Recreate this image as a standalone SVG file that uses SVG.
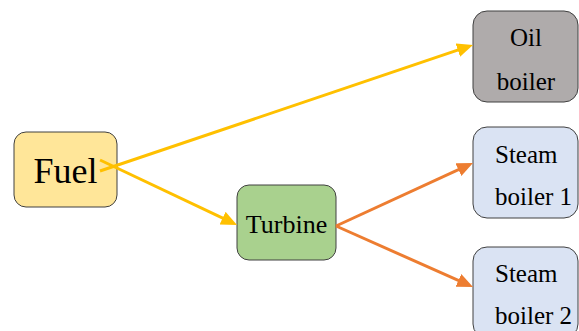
<svg xmlns="http://www.w3.org/2000/svg" width="579" height="331" viewBox="0 0 579 331">
  <style>
    .box { stroke: #404040; stroke-width: 1; }
    .lbl { font-family: "Liberation Serif", "Times New Roman", serif; fill: #000; }
    .yel { stroke: #FFC000; stroke-width: 3; fill: none; }
    .org { stroke: #ED7D31; stroke-width: 3; fill: none; }
  </style>
  <defs>
    <marker id="ahY" markerUnits="userSpaceOnUse" markerWidth="17" markerHeight="15" refX="6" refY="7" orient="auto">
      <path d="M0,0 L16,7 L0,14 z" fill="#FFC000"/>
    </marker>
    <marker id="ahO" markerUnits="userSpaceOnUse" markerWidth="17" markerHeight="15" refX="6" refY="7" orient="auto">
      <path d="M0,0 L16,7 L0,14 z" fill="#ED7D31"/>
    </marker>
  </defs>
  <rect width="579" height="331" fill="#fff"/>

  <g id="fuel">
    <rect class="box" x="14" y="132" width="103" height="75" rx="12" fill="#FFE699"/>
    <text class="lbl" x="65.5" y="183" font-size="36" text-anchor="middle">Fuel</text>
  </g>

  <g id="turbine">
    <rect class="box" x="237" y="185" width="99" height="75" rx="12" fill="#A9D18E"/>
    <text class="lbl" x="286.5" y="233" font-size="26" text-anchor="middle">Turbine</text>
  </g>

  <g id="oil-boiler">
    <rect class="box" x="473" y="11" width="105" height="91" rx="14" fill="#AFABAB"/>
    <text class="lbl" x="526" y="46" font-size="25" text-anchor="middle">Oil</text>
    <text class="lbl" x="526" y="90" font-size="25" text-anchor="middle">boiler</text>
  </g>

  <g id="steam-boiler-1">
    <rect class="box" x="473" y="127" width="105" height="91" rx="14" fill="#DAE3F3"/>
    <text class="lbl" x="495" y="163" font-size="25">Steam</text>
    <text class="lbl" x="495" y="205" font-size="25">boiler 1</text>
  </g>

  <g id="steam-boiler-2">
    <rect class="box" x="473" y="247" width="105" height="91" rx="14" fill="#DAE3F3"/>
    <text class="lbl" x="495" y="282" font-size="25">Steam</text>
    <text class="lbl" x="495" y="324" font-size="25">boiler 2</text>
  </g>

  <g id="connectors">
    <line class="yel" x1="100" y1="171" x2="463.5" y2="48.2" marker-end="url(#ahY)"/>
    <line class="yel" x1="100" y1="160" x2="228" y2="220.7" marker-end="url(#ahY)"/>
    <line class="org" x1="336" y1="226" x2="463.9" y2="167.2" marker-end="url(#ahO)"/>
    <line class="org" x1="336" y1="226" x2="463.9" y2="282.9" marker-end="url(#ahO)"/>
  </g>
</svg>
